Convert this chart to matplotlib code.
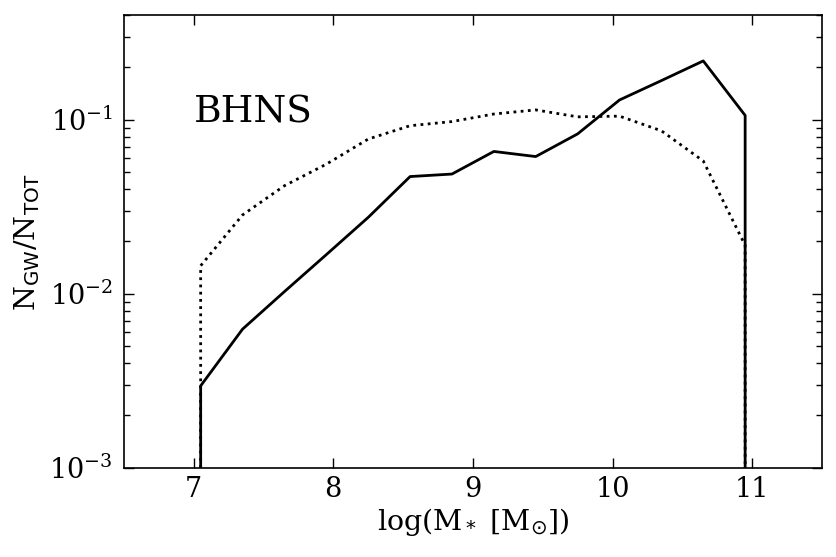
import matplotlib
matplotlib.use("Agg")
import matplotlib.pyplot as plt
import numpy as np

plt.rcParams['font.family'] = ['DejaVu Serif']
plt.rcParams['mathtext.fontset'] = 'dejavusans'

# bin centres in log(M*/Msun)
logM = [7.05, 7.35, 7.65, 7.95, 8.25, 8.55, 8.85, 9.15, 9.45, 9.75, 10.05, 10.35, 10.65, 10.95]
solid_frac = [0.00296, 0.00627, 0.0103, 0.0168, 0.0275, 0.0472, 0.0488, 0.0658,
              0.0615, 0.0830, 0.130, 0.168, 0.218, 0.106]
dotted_frac = [0.0145, 0.0284, 0.0418, 0.0556, 0.0775, 0.0925, 0.0977, 0.108,
               0.114, 0.104, 0.105, 0.0865, 0.058, 0.0190]
ymin_val = 1e-3

fig = plt.figure(figsize=(8.37, 5.57), dpi=100)
ax = fig.add_axes([0.148, 0.16, 0.834, 0.813])

def closed(x, y):
    xs = [x[0]] + list(x) + [x[-1]]
    ys = [ymin_val] + list(y) + [ymin_val]
    return xs, ys

xs, ys = closed(logM, dotted_frac)
ax.plot(xs, ys, color='black', lw=2.0, ls=(0, (1, 1.6)))
xs, ys = closed(logM, solid_frac)
ax.plot(xs, ys, color='black', lw=2.0, ls='-')

ax.set_yscale('log')
ax.set_xlim(6.5, 11.5)
ax.set_ylim(1e-3, 0.4)
ax.set_xticks([7, 8, 9, 10, 11])

ax.tick_params(which='both', direction='in', top=True, right=True, labelsize=19.5)
ax.tick_params(axis='x', which='both', pad=6)
ax.tick_params(axis='y', which='both', pad=8)
ax.tick_params(which='major', length=7, width=1)
ax.tick_params(which='minor', length=4, width=1)
for s in ax.spines.values():
    s.set_linewidth(1.2)

ax.set_xlabel('log(M$_*$ [M$_{⊙}$])', fontsize=20.5, labelpad=2)
ax.set_ylabel(r'N$_{\rm GW}$/N$_{\rm TOT}$', fontsize=20.5, labelpad=5)
ax.text(7.0, 0.097, 'BHNS', fontsize=27, ha='left', va='baseline')

fig.savefig('out.png', dpi=100)
